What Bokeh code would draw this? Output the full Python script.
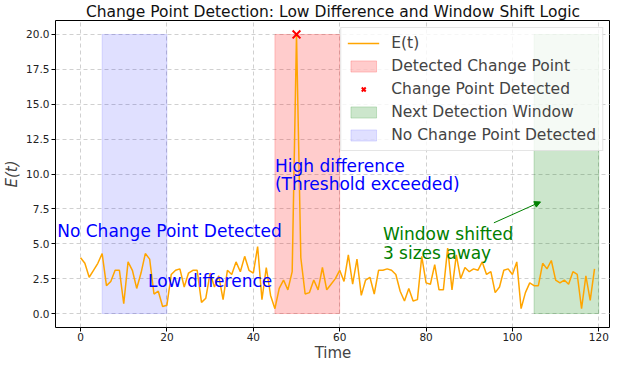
from bokeh.plotting import figure
from bokeh.models import (Range1d, FixedTicker, NumeralTickFormatter, Legend, LegendItem,
                          Label, Arrow, NormalHead, ColumnDataSource)
from bokeh.embed import file_html
from bokeh.resources import INLINE

# ---- data ----
t_values = list(range(120))
e_values = [4.0, 3.6, 2.6, 3.1, 3.6, 4.3, 2.0, 2.3, 3.1, 3.1,
            0.7, 3.7, 3.1, 1.8, 2.9, 4.3, 3.9, 1.4, 1.6, 0.5,
            0.6, 2.8, 3.1, 3.2, 1.9, 2.9, 3.1, 3.1, 0.8, 1.1,
            2.9, 1.9, 2.7, 1.0, 3.1, 2.8, 3.7, 3.0, 4.1, 3.1,
            2.9, 4.8, 1.0, 3.3, 1.3, 0.35, 1.8, 2.4, 1.7, 3.0,
            20.0, 4.0, 1.4, 1.5, 2.4, 1.7, 3.3, 1.7, 2.1, 2.5,
            3.1, 2.3, 4.2, 2.1, 3.9, 1.3, 2.4, 2.6, 1.4, 3.1,
            3.1, 3.2, 3.1, 2.8, 1.6, 0.9, 1.8, 0.9, 1.0, 4.1,
            2.2, 2.1, 3.5, 1.7, 1.7, 4.7, 1.7, 4.2, 2.5, 3.3,
            3.0, 3.2, 3.1, 3.7, 2.8, 3.0, 1.5, 1.9, 3.1, 3.2,
            2.8, 3.7, 0.35, 1.5, 2.2, 2.0, 2.0, 3.6, 3.2, 3.8,
            2.4, 2.2, 2.4, 2.1, 3.0, 2.8, 0.35, 2.7, 0.95, 3.2]

no_change_window = [5, 20]
detected_window = [45, 60]
next_window = [105, 120]
change_point_t = [50]
change_point_e = [20.0]
window_bottom = 0
window_top = 20

x_ticks = [0, 20, 40, 60, 80, 100, 120]
y_ticks = [0, 2.5, 5, 7.5, 10, 12.5, 15, 17.5, 20]

FONT = "DejaVu Sans"

p = figure(width=610, height=364, output_backend="svg", toolbar_location=None,
           x_range=Range1d(-5.8, 122.7), y_range=Range1d(-1, 21),
           min_border_left=2, min_border_right=0, min_border_top=0, min_border_bottom=0,
           title="Change Point Detection: Low Difference and Window Shift Logic")

p.title.text_font = FONT
p.title.text_font_size = "15.5px"
p.title.text_font_style = "normal"
p.title.align = "center"
p.title.standoff = 0
p.title.offset = 0
p.title.text_line_height = 1.0
p.title.text_color = "#111111"

# shaded windows
blue = p.quad(left=[no_change_window[0]], right=[no_change_window[1]],
              bottom=[window_bottom], top=[window_top],
              fill_color="blue", fill_alpha=0.12, line_color="blue", line_alpha=0.12)
red = p.quad(left=[detected_window[0]], right=[detected_window[1]],
             bottom=[window_bottom], top=[window_top],
             fill_color="red", fill_alpha=0.2, line_color="red", line_alpha=0.2)
green = p.quad(left=[next_window[0]], right=[next_window[1]],
               bottom=[window_bottom], top=[window_top],
               fill_color="green", fill_alpha=0.2, line_color="green", line_alpha=0.2)

src = ColumnDataSource(dict(t=t_values, e=e_values))
line = p.line("t", "e", source=src, line_color="orange", line_width=1.5)
xmark = p.scatter(change_point_t, change_point_e, marker="x", size=11,
                  line_color="red", line_width=2)

# axes
p.xaxis.ticker = FixedTicker(ticks=x_ticks)
p.yaxis.ticker = FixedTicker(ticks=y_ticks)
p.yaxis.formatter = NumeralTickFormatter(format="0.0")
for ax in (p.xaxis, p.yaxis):
    ax.major_label_text_font = FONT
    ax.major_label_text_font_size = "10.5px"
    ax.major_label_text_color = "#222222"
    ax.major_label_text_line_height = 1.0
    ax.axis_label_text_font = FONT
    ax.axis_label_text_font_size = "15px"
    ax.axis_label_text_font_style = "normal"
    ax.axis_label_text_line_height = 1.0
    ax.axis_line_color = None
    ax.major_tick_out = 4
    ax.major_tick_in = 0
    ax.major_tick_line_color = "black"
    ax.minor_tick_line_color = None
    ax.axis_label_standoff = 2
    ax.major_label_standoff = 2
p.xaxis.axis_label_standoff = 0
p.xaxis.major_label_standoff = 1
p.xaxis.axis_label = "Time"
p.yaxis.axis_label = "E(t)"
p.yaxis.axis_label_text_font_style = "italic"

p.outline_line_color = "black"
p.outline_line_width = 1
p.outline_line_alpha = 1

p.xgrid.grid_line_color = "#b0b0b0"
p.ygrid.grid_line_color = "#b0b0b0"
p.xgrid.grid_line_alpha = 0.6
p.ygrid.grid_line_alpha = 0.6
p.xgrid.grid_line_dash = "4 3"
p.ygrid.grid_line_dash = "4 3"

# annotations
def add_label(x, y, text, color, align="left"):
    p.add_layout(Label(x=x, y=y, text=text, text_color=color, text_font=FONT,
                       text_font_size="17px", text_align=align, text_baseline="middle"))

add_label(-5.4, 5.95, "No Change Point Detected", "blue")
add_label(30, 2.3, "Low difference", "blue", align="center")
add_label(45, 10.6, "High difference", "blue")
add_label(45, 9.25, "(Threshold exceeded)", "blue")
add_label(70, 5.7, "Window shifted", "green")
add_label(70, 4.35, "3 sizes away", "green")

p.add_layout(Arrow(end=NormalHead(size=6, fill_color="green", line_color="green", line_width=1),
                   x_start=95.7, y_start=6.5, x_end=106.5, y_end=8.0,
                   line_color="green", line_width=1))

legend = Legend(items=[
    LegendItem(label="E(t)", renderers=[line]),
    LegendItem(label="Detected Change Point", renderers=[red]),
    LegendItem(label="Change Point Detected", renderers=[xmark]),
    LegendItem(label="Next Detection Window", renderers=[green]),
    LegendItem(label="No Change Point Detected", renderers=[blue]),
], location="top_right")
legend.label_text_font = FONT
legend.label_text_font_size = "15.5px"
legend.label_standoff = 12
legend.glyph_width = 32
legend.glyph_height = 14
legend.label_height = 18
legend.spacing = 5
legend.padding = 6
legend.margin = 7
legend.border_line_color = "#cccccc"
legend.background_fill_alpha = 0.8
p.add_layout(legend)

open("out.html", "w").write(file_html(p, INLINE))
